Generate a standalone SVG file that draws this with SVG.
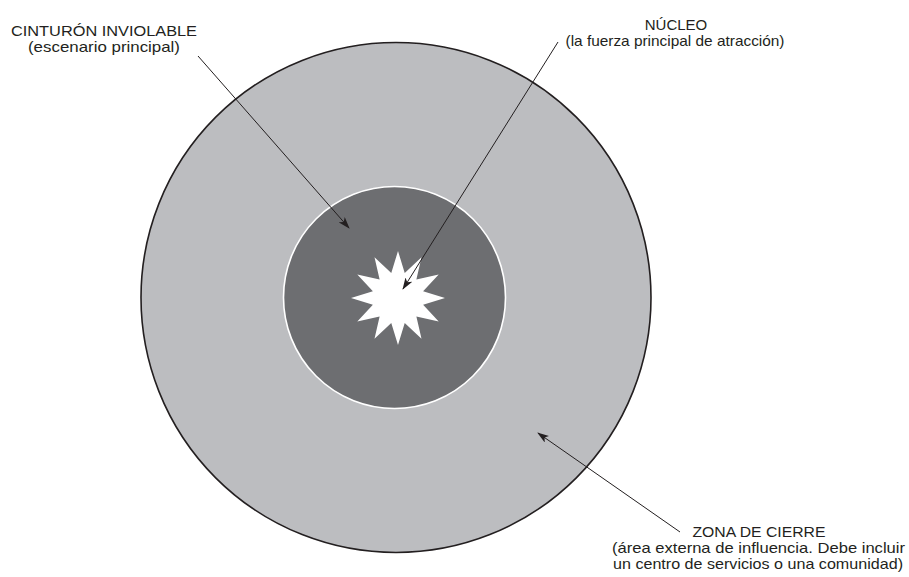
<svg xmlns="http://www.w3.org/2000/svg" width="909" height="577" viewBox="0 0 909 577">
<style>
.t{font-family:"Liberation Sans","DejaVu Sans",sans-serif;font-size:15px;fill:#231f20;text-anchor:middle}
.c{stroke:#231f20;stroke-width:1;fill:none}
</style>
<defs>
<marker id="ah" viewBox="0 0 12 8" refX="11" refY="4" markerWidth="12" markerHeight="8" markerUnits="userSpaceOnUse" orient="auto">
<path d="M0,0 L12,4 L0,8 L3,4 Z" fill="#231f20"/>
</marker>
</defs>
<rect width="909" height="577" fill="#ffffff"/>
<g id="zona-de-cierre">
<circle cx="396" cy="297.5" r="255" fill="#bcbdc0" stroke="#231f20" stroke-width="1.6"/>
</g>
<g id="cinturon-inviolable">
<circle cx="394.5" cy="297.5" r="111" fill="#6d6e71" stroke="#ffffff" stroke-width="1.6"/>
</g>
<g id="nucleo">
<polygon fill="#ffffff" points="398,251 404.73,272.89 421.5,257.3 416.38,279.62 438.7,274.5 423.11,291.27 445,298 423.11,304.73 438.7,321.5 416.38,316.38 421.5,338.7 404.73,323.11 398,345 391.27,323.11 374.5,338.7 379.62,316.38 357.3,321.5 372.89,304.73 351,298 372.89,291.27 357.3,274.5 379.62,279.62 374.5,257.3 391.27,272.89"/>
</g>
<g id="connectors">
<line class="c" x1="198" y1="56" x2="349" y2="228" marker-end="url(#ah)"/>
<line class="c" x1="558" y1="42" x2="403" y2="289" marker-end="url(#ah)"/>
<line class="c" x1="680" y1="532" x2="538" y2="433" marker-end="url(#ah)"/>
</g>
<g id="label-cinturon">
<text class="t" x="104" y="36" textLength="186" lengthAdjust="spacingAndGlyphs">CINTURÓN INVIOLABLE</text>
<text class="t" x="104" y="52" textLength="152" lengthAdjust="spacingAndGlyphs">(escenario principal)</text>
</g>
<g id="label-nucleo">
<text class="t" x="676" y="30">NÚCLEO</text>
<text class="t" x="675" y="46" textLength="219" lengthAdjust="spacingAndGlyphs">(la fuerza principal de atracción)</text>
</g>
<g id="label-zona">
<text class="t" x="759" y="537" textLength="133" lengthAdjust="spacingAndGlyphs">ZONA DE CIERRE</text>
<text class="t" x="758.5" y="553" textLength="293" lengthAdjust="spacingAndGlyphs">(área externa de influencia. Debe incluir</text>
<text class="t" x="758" y="569" textLength="290" lengthAdjust="spacingAndGlyphs">un centro de servicios o una comunidad)</text>
</g>
</svg>
